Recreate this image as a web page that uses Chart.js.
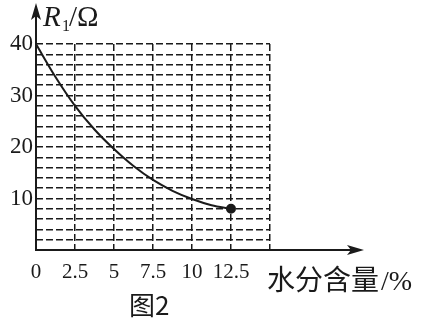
<!DOCTYPE html>
<html>
<head>
<meta charset="utf-8">
<title>R1 - 水分含量</title>
<script src="https://cdn.jsdelivr.net/npm/chart.js"></script>
<style>
  html, body { margin:0; padding:0; background:#fff; }
  #wrap { width:425px; height:325px; }
</style>
</head>
<body>
<div id="wrap"><canvas id="c" width="425" height="325"></canvas></div>
<script>
// valeurs
const moisture = [0, 1.25, 2.5, 3.75, 5, 6.25, 7.5, 8.75, 10, 11.25, 12.5];
const resistance = [40, 33.6, 28, 23.4, 19.6, 16.3, 13.6, 11.5, 9.9, 8.7, 8];
const xTickLabels = ['0', '2.5', '5', '7.5', '10', '12.5'];
const yTickLabels = ['10', '20', '30', '40'];

const ink = '#1a1a1a';
const serif = '"Liberation Serif", "DejaVu Serif", serif';
const cjk = '"Noto Sans CJK SC", sans-serif';

// axes avec flèches + textes
const decor = {
  id: 'decor',
  afterDraw(chart) {
    const ctx = chart.ctx;
    const x = chart.scales.x, y = chart.scales.y;
    const x0 = x.getPixelForValue(0), y0 = y.getPixelForValue(0);
    ctx.save();
    ctx.strokeStyle = ink;
    ctx.fillStyle = ink;
    ctx.lineWidth = 2;
    ctx.setLineDash([]);
    // axe y
    ctx.beginPath();
    ctx.moveTo(x0, y0 + 1);
    ctx.lineTo(x0, 14);
    ctx.stroke();
    ctx.beginPath();
    ctx.moveTo(x0, 3);
    ctx.lineTo(x0 - 5, 20);
    ctx.lineTo(x0, 16);
    ctx.lineTo(x0 + 5, 20);
    ctx.closePath();
    ctx.fill();
    // axe x
    ctx.beginPath();
    ctx.moveTo(x0 - 1, y0);
    ctx.lineTo(352, y0);
    ctx.stroke();
    ctx.beginPath();
    ctx.moveTo(364, y0);
    ctx.lineTo(347, y0 - 5);
    ctx.lineTo(351, y0);
    ctx.lineTo(347, y0 + 5);
    ctx.closePath();
    ctx.fill();

    // titre axe y : R1/Ω
    ctx.textBaseline = 'alphabetic';
    ctx.textAlign = 'left';
    ctx.font = 'italic 29px ' + serif;
    ctx.fillText('R', 43, 26);
    ctx.font = '16px ' + serif;
    ctx.fillText('1', 62, 31);
    ctx.font = '29px ' + serif;
    ctx.fillText('/Ω', 69, 26);

    // titre axe x
    ctx.font = '28px ' + cjk;
    ctx.fillText('水分含量', 267, 290);
    const w = ctx.measureText('水分含量').width;
    ctx.font = '28px ' + serif;
    ctx.fillText('/%', 267 + w + 2, 290);

    // légende figure
    ctx.font = '26px ' + cjk;
    ctx.fillText('图2', 129, 315);
    ctx.restore();
  }
};

const gridDash = [7, 3];

new Chart(document.getElementById('c'), {
  type: 'line',
  data: {
    datasets: [{
      data: moisture.map((m, i) => ({ x: m, y: resistance[i] })),
      borderColor: ink,
      backgroundColor: ink,
      borderWidth: 2,
      cubicInterpolationMode: 'monotone',
      pointRadius: moisture.map((m, i) => i === moisture.length - 1 ? 4 : 0),
      pointHoverRadius: 0,
      fill: false
    }]
  },
  options: {
    responsive: false,
    animation: false,
    events: [],
    layout: { padding: { top: 44, right: 155, left: 0, bottom: 0 } },
    plugins: { legend: { display: false }, tooltip: { enabled: false } },
    scales: {
      x: {
        type: 'linear',
        min: 0, max: 15,
        afterFit(s) { s.height = 75; },
        afterBuildTicks(s) {
          s.ticks = [0, 2.5, 5, 7.5, 10, 12.5, 15].map(v => ({ value: v }));
        },
        ticks: {
          padding: 10,
          maxRotation: 0,
          autoSkip: false,
          color: ink,
          font: { family: serif, size: 21 },
          callback: (v) => xTickLabels.find(t => parseFloat(t) === v) || ''
        },
        grid: { color: ink, lineWidth: 1.5, drawTicks: false, borderDash: gridDash },
        border: { display: false, dash: gridDash }
      },
      y: {
        min: 0, max: 40,
        afterFit(s) { s.width = 36; },
        ticks: {
          stepSize: 2,
          padding: 3,
          autoSkip: false,
          color: ink,
          font: { family: serif, size: 23 },
          callback: (v) => yTickLabels.includes(String(v)) ? String(v) : ''
        },
        grid: { color: ink, lineWidth: 1.5, drawTicks: false, borderDash: gridDash },
        border: { display: false, dash: gridDash }
      }
    }
  },
  plugins: [decor]
});
</script>
</body>
</html>
